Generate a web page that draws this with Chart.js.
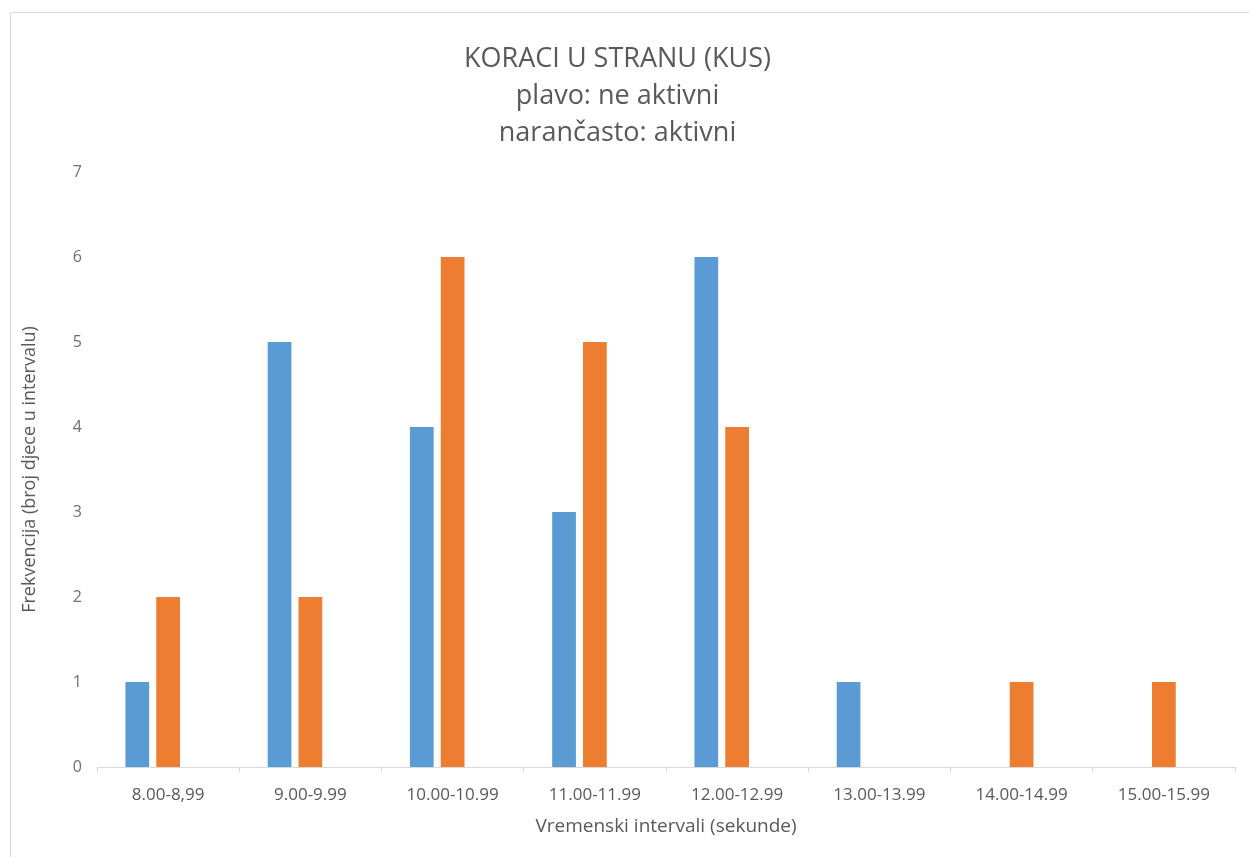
<!DOCTYPE html>
<html>
<head>
<meta charset="utf-8">
<script src="https://cdn.jsdelivr.net/npm/chart.js@4/dist/chart.umd.min.js"></script>
<style>
  html, body { margin: 0; padding: 0; background: #ffffff; }
  #wrap { position: relative; width: 1249px; height: 857px; overflow: hidden; }
  #frame { position: absolute; left: 10px; top: 12px; width: 1300px; height: 900px; border: 1px solid #d9d9d9; box-sizing: border-box; }
  canvas { position: absolute; left: 0; top: 0; }
</style>
</head>
<body>
<div id="wrap">
  <div id="frame"></div>
  <canvas id="c" width="1249" height="857"></canvas>
</div>
<script>
const categories = ["8.00-8,99", "9.00-9.99", "10.00-10.99", "11.00-11.99", "12.00-12.99", "13.00-13.99", "14.00-14.99", "15.00-15.99"];
const plavoNeAktivni = [1, 5, 4, 3, 6, 1, null, null];
const narancastoAktivni = [2, 2, 6, 5, 4, null, 1, 1];
const treciPrazni = [null, null, null, null, null, null, null, null];
const titleLines = ["KORACI U STRANU (KUS)", "plavo: ne aktivni", "narančasto: aktivni"];
const xTitle = "Vremenski intervali (sekunde)";
const yTitle = "Frekvencija (broj djece u intervalu)";

const textColor = "#595959";
const fontFam = "'Open Sans', 'DejaVu Sans', sans-serif";

const barStyle = { categoryPercentage: 0.65, barPercentage: 0.77, borderWidth: 0 };

new Chart(document.getElementById("c"), {
  type: "bar",
  data: {
    labels: categories,
    datasets: [
      Object.assign({ label: "ne aktivni", data: plavoNeAktivni, backgroundColor: "#5B9BD5" }, barStyle),
      Object.assign({ label: "aktivni", data: narancastoAktivni, backgroundColor: "#ED7D31" }, barStyle),
      Object.assign({ label: "", data: treciPrazni, backgroundColor: "#A5A5A5" }, barStyle)
    ]
  },
  options: {
    responsive: false,
    animation: false,
    layout: { padding: { left: 0, right: 14, top: 0, bottom: 0 } },
    plugins: {
      legend: { display: false },
      tooltip: { enabled: false },
      title: {
        display: true,
        text: titleLines,
        color: textColor,
        font: { family: fontFam, size: 27, weight: "normal", lineHeight: "37px" },
        padding: { top: 41, bottom: 20 }
      }
    },
    scales: {
      x: {
        offset: true,
        grid: { display: true, offset: true, drawOnChartArea: false, drawTicks: true, tickLength: 5, color: "#d9d9d9" },
        border: { display: true, color: "#d9d9d9", width: 1 },
        ticks: { color: textColor, font: { family: fontFam, size: 17 }, padding: 13, maxRotation: 0, autoSkip: false },
        title: { display: true, text: xTitle, color: textColor, font: { family: fontFam, size: 19 }, padding: { top: 19, bottom: 19 } },
        afterFit: (s) => { s.height = 90; }
      },
      y: {
        min: 0,
        max: 7,
        grid: { display: false },
        border: { display: false },
        ticks: { stepSize: 1, color: "#6f6f6f", font: { family: fontFam, size: 16 }, padding: 7 },
        title: { display: true, text: yTitle, color: textColor, font: { family: fontFam, size: 18 }, padding: { top: 19, bottom: 19 } },
        afterFit: (s) => { s.width = 97; }
      }
    }
  }
});
</script>
</body>
</html>
